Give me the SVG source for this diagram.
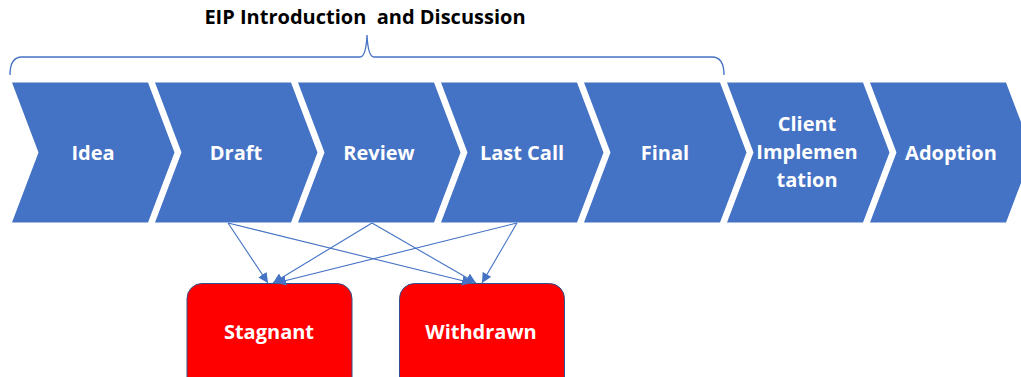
<svg xmlns="http://www.w3.org/2000/svg" width="1021" height="377" viewBox="0 0 1021 377">
<style>
.chev{fill:#4472C4;}
.lbl{font-family:"Open Sans","Liberation Sans",sans-serif;font-weight:bold;font-size:20px;fill:#fff;text-anchor:middle;}
.title{font-family:"Open Sans","Liberation Sans",sans-serif;font-weight:bold;font-size:20px;fill:#000;text-anchor:middle;white-space:pre;}
.box{fill:#FF0000;stroke:#2F528F;stroke-width:1;}
.conn{stroke:#4472C4;stroke-width:1.1;fill:none;marker-end:url(#arr);}
.brace{stroke:#4472C4;stroke-width:1.3;fill:none;}
</style>
<defs>
<marker id="arr" viewBox="0 0 10 10" refX="10" refY="5" markerWidth="10" markerHeight="10" markerUnits="userSpaceOnUse" orient="auto">
<path d="M0,0 L10,5 L0,10 z" fill="#4472C4"/>
</marker>
</defs>
<rect width="1021" height="377" fill="#fff"/>
<text class="title" x="365" y="24" xml:space="preserve">EIP Introduction  and Discussion</text>
<path class="brace" d="M10,75 Q10,57 22,57 L360,57 Q366,57 367,35 Q368,57 374,57 L712,57 Q724,57 724,75"/>
<g id="idea"><polygon class="chev" points="12,82.5 148,82.5 174.5,152.5 148,222.5 12,222.5 38.5,152.5"/><text class="lbl" x="93" y="159.5">Idea</text></g>
<g id="draft"><polygon class="chev" points="155,82.5 291,82.5 317.5,152.5 291,222.5 155,222.5 181.5,152.5"/><text class="lbl" x="236" y="159.5">Draft</text></g>
<g id="review"><polygon class="chev" points="298,82.5 434,82.5 460.5,152.5 434,222.5 298,222.5 324.5,152.5"/><text class="lbl" x="379" y="159.5">Review</text></g>
<g id="lastcall"><polygon class="chev" points="441,82.5 577,82.5 603.5,152.5 577,222.5 441,222.5 467.5,152.5"/><text class="lbl" x="522" y="159.5">Last Call</text></g>
<g id="final"><polygon class="chev" points="584,82.5 720,82.5 746.5,152.5 720,222.5 584,222.5 610.5,152.5"/><text class="lbl" x="665" y="159.5">Final</text></g>
<g id="client"><polygon class="chev" points="727,82.5 863,82.5 889.5,152.5 863,222.5 727,222.5 753.5,152.5"/><text class="lbl" x="807" y="131">Client</text><text class="lbl" x="807" y="159">Implemen</text><text class="lbl" x="807" y="186.5">tation</text></g>
<g id="adoption"><polygon class="chev" points="870,82.5 1006,82.5 1032.5,152.5 1006,222.5 870,222.5 896.5,152.5"/><text class="lbl" x="951" y="159.5">Adoption</text></g>
<g id="stagnant"><rect class="box" x="187" y="283.5" width="165" height="120" rx="15"/><text class="lbl" x="269" y="339">Stagnant</text></g>
<g id="withdrawn"><rect class="box" x="399.5" y="283.5" width="165" height="120" rx="15"/><text class="lbl" x="481" y="339">Withdrawn</text></g>
<g id="connectors">
<line class="conn" x1="228" y1="223" x2="268" y2="283"/>
<line class="conn" x1="228" y1="223" x2="472" y2="283"/>
<line class="conn" x1="372" y1="223" x2="273" y2="283"/>
<line class="conn" x1="372" y1="223" x2="476" y2="283"/>
<line class="conn" x1="517" y1="223" x2="276" y2="283"/>
<line class="conn" x1="517" y1="223" x2="482" y2="283"/>
</g>
</svg>
